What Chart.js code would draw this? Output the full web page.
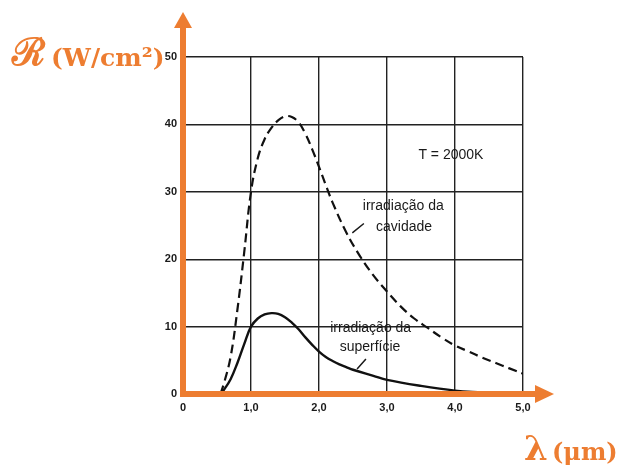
<!DOCTYPE html>
<html>
<head>
<meta charset="utf-8">
<script src="https://cdn.jsdelivr.net/npm/chart.js@4"></script>
<style>
  body { margin: 0; background: #fff; }
  #wrap { width: 624px; height: 468px; }
</style>
</head>
<body>
<div id="wrap"><canvas id="myChart" width="624" height="468"></canvas></div>
<script>
// wavelength (um) and radiance (W/cm2)
const lambdaCav = [0.55, 0.6, 0.7, 0.8, 0.9, 1.0, 1.1, 1.2, 1.3, 1.4, 1.5, 1.6, 1.7, 1.8, 1.9, 2.0, 2.1, 2.2, 2.4, 2.6, 2.8, 3.0, 3.2, 3.4, 3.6, 3.8, 4.0, 4.2, 4.4, 4.6, 4.8, 5.0];
const cavidade  = [0, 1.5, 5.5, 12.5, 21, 30, 35, 37.8, 39.5, 40.6, 41.2, 41.1, 40.3, 38.6, 36.3, 33.7, 31.0, 28.4, 24.0, 20.5, 17.6, 15.2, 13, 11.2, 9.8, 8.4, 7.2, 6.3, 5.4, 4.6, 3.8, 3.0];

const lambdaSup = [0.55, 0.6, 0.7, 0.8, 0.9, 1.0, 1.1, 1.2, 1.3, 1.4, 1.5, 1.6, 1.7, 1.8, 1.9, 2.0, 2.1, 2.2, 2.3, 2.4, 2.5, 2.8, 3.0, 3.5, 4.0, 4.4];
const superficie = [0, 0.6, 2.2, 4.6, 7.4, 10, 11.2, 11.8, 12, 11.9, 11.4, 10.6, 9.6, 8.4, 7.3, 6.3, 5.5, 4.9, 4.4, 4.0, 3.6, 2.7, 2.1, 1.2, 0.5, 0.2];

const xTicks = [0, 1, 2, 3, 4, 5];
const yTicks = [0, 10, 20, 30, 40, 50];

const laranja = 'rgb(237, 125, 49)';

const pts = (xs, ys) => xs.map((x, i) => ({ x: x, y: ys[i] }));

// orange axes, arrows, titles and the notes on the curves
const extras = {
    id: 'extras',
    afterDraw(chart) {
        const c = chart.ctx;
        const a = chart.chartArea;
        const sx = chart.scales.x, sy = chart.scales.y;
        c.save();

        // notes
        c.fillStyle = '#1a1a1a';
        c.textAlign = 'center';
        c.textBaseline = 'middle';
        c.font = '14px "Liberation Sans", Arial, sans-serif';
        c.fillText('T = 2000K', sx.getPixelForValue(3.94), sy.getPixelForValue(35.5));
        c.fillText('irradiação da', sx.getPixelForValue(3.24), sy.getPixelForValue(27.8));
        c.fillText('cavidade', sx.getPixelForValue(3.25), sy.getPixelForValue(24.8));
        c.fillText('irradiação da', sx.getPixelForValue(2.76), sy.getPixelForValue(9.8));
        c.fillText('superfície', sx.getPixelForValue(2.75), sy.getPixelForValue(7.0));

        c.strokeStyle = '#1a1a1a';
        c.lineWidth = 1.5;
        c.beginPath();
        c.moveTo(sx.getPixelForValue(2.66), sy.getPixelForValue(25.3));
        c.lineTo(sx.getPixelForValue(2.49), sy.getPixelForValue(23.9));
        c.moveTo(sx.getPixelForValue(2.69), sy.getPixelForValue(5.2));
        c.lineTo(sx.getPixelForValue(2.56), sy.getPixelForValue(3.7));
        c.stroke();

        // orange axes with arrows
        c.strokeStyle = laranja;
        c.fillStyle = laranja;
        c.lineWidth = 6;
        c.beginPath();
        c.moveTo(a.left, a.bottom + 3);
        c.lineTo(a.left, 26);
        c.moveTo(a.left - 3, a.bottom);
        c.lineTo(537, a.bottom);
        c.stroke();

        c.beginPath();
        c.moveTo(a.left, 12);
        c.lineTo(a.left - 9, 28);
        c.lineTo(a.left + 9, 28);
        c.closePath();
        c.fill();

        c.beginPath();
        c.moveTo(554, a.bottom);
        c.lineTo(535, a.bottom - 9);
        c.lineTo(535, a.bottom + 9);
        c.closePath();
        c.fill();

        // axis titles
        c.textAlign = 'left';
        c.textBaseline = 'alphabetic';
        c.font = 'bold 38px "DejaVu Serif", serif';
        c.fillText('ℛ', 12, 65);
        c.font = 'bold 25px "DejaVu Serif", serif';
        c.fillText('(W/cm²)', 51, 66);

        c.font = 'bold 34px "DejaVu Serif", serif';
        c.fillText('λ', 524, 460);
        c.font = 'bold 24px "DejaVu Serif", serif';
        c.fillText('(μm)', 552, 460);

        c.restore();
    }
};

const ctx = document.getElementById('myChart').getContext('2d');
const myChart = new Chart(ctx, {
    type: 'line',
    data: {
        datasets: [{
            label: 'irradiação da cavidade',
            data: pts(lambdaCav, cavidade),
            borderColor: '#111',
            borderWidth: 2.2,
            borderDash: [9, 5],
            pointRadius: 0,
            tension: 0.4,
            fill: false
        }, {
            label: 'irradiação da superfície',
            data: pts(lambdaSup, superficie),
            borderColor: '#111',
            borderWidth: 2.4,
            pointRadius: 0,
            tension: 0.4,
            fill: false
        }]
    },
    options: {
        responsive: false,
        animation: false,
        events: [],
        layout: { padding: { top: 57, right: 101, left: 0, bottom: 0 } },
        plugins: {
            legend: { display: false },
            tooltip: { enabled: false }
        },
        scales: {
            x: {
                type: 'linear',
                min: 0,
                max: 5,
                afterFit: (s) => { s.height = 74; },
                afterBuildTicks: (s) => { s.ticks = xTicks.map(v => ({ value: v })); },
                grid: { color: '#222', lineWidth: 1.4, drawTicks: false },
                border: { display: false },
                ticks: {
                    padding: 7,
                    color: '#1a1a1a',
                    font: { family: '"Liberation Sans", Arial, sans-serif', size: 11, weight: 'bold' },
                    callback: (v) => v === 0 ? '0' : v.toFixed(1).replace('.', ',')
                }
            },
            y: {
                min: 0,
                max: 50,
                afterFit: (s) => { s.width = 183; },
                afterBuildTicks: (s) => { s.ticks = yTicks.map(v => ({ value: v })); },
                grid: { color: '#222', lineWidth: 1.4, drawTicks: false },
                border: { display: false },
                ticks: {
                    padding: 6,
                    color: '#1a1a1a',
                    font: { family: '"Liberation Sans", Arial, sans-serif', size: 11, weight: 'bold' }
                }
            }
        }
    },
    plugins: [extras]
});
</script>
</body>
</html>
